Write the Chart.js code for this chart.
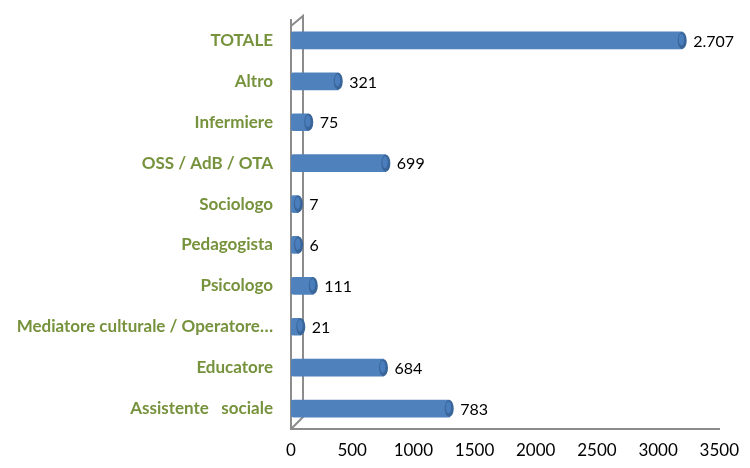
<!DOCTYPE html>
<html>
<head>
<meta charset="utf-8">
<script src="https://cdn.jsdelivr.net/npm/chart.js@4/dist/chart.umd.min.js"></script>
<style>
  html, body { margin: 0; padding: 0; background: #fff; }
  #wrap { width: 750px; height: 468px; position: relative; }
</style>
</head>
<body>
<div id="wrap"><canvas id="profChart"></canvas></div>
<script>
// categorie (dall'alto verso il basso)
const categories = [
    'TOTALE', 'Altro', 'Infermiere', 'OSS / AdB / OTA', 'Sociologo',
    'Pedagogista', 'Psicologo', 'Mediatore culturale / Operatore…',
    'Educatore', 'Assistente   sociale'
];
// lunghezze delle barre
const barValues = [3197, 386, 145, 775, 60, 62, 182, 80, 756, 1293];
// etichette numeriche stampate accanto alle barre
const valueLabels = ['2.707', '321', '75', '699', '7', '6', '111', '21', '684', '783'];
const xTicks = [0, 500, 1000, 1500, 2000, 2500, 3000, 3500];

// --- cilindri: tappo ellittico + etichette ---
const cylinderPlugin = {
    id: 'cylinder',
    beforeDatasetsDraw(chart) {
        // parete sinistra 3D
        const ctx = chart.ctx;
        const a = chart.chartArea;
        ctx.save();
        ctx.strokeStyle = '#8C8C8C';
        ctx.lineWidth = 2;
        ctx.beginPath();
        ctx.moveTo(a.left, a.top + 6);
        ctx.lineTo(a.left + 12, a.top - 4);
        ctx.lineTo(a.left + 12, a.bottom - 12);
        ctx.lineTo(a.left, a.bottom);
        ctx.stroke();
        ctx.restore();
    },
    afterDatasetsDraw(chart) {
        const ctx = chart.ctx;
        const meta = chart.getDatasetMeta(0);
        meta.data.forEach((bar, i) => {
            const ry = bar.height / 2;
            const rx = 4.5;
            ctx.save();
            // tappo finale
            ctx.beginPath();
            ctx.ellipse(bar.x, bar.y, rx, ry, 0, 0, Math.PI * 2);
            ctx.fillStyle = '#3A6599';
            ctx.fill();
            ctx.beginPath();
            ctx.ellipse(bar.x - 0.8, bar.y - 1, rx - 1.8, ry - 2.5, 0, 0, Math.PI * 2);
            ctx.fillStyle = '#4A7DBB';
            ctx.fill();
            // etichetta
            ctx.fillStyle = '#000';
            ctx.font = '16px Lato, "Open Sans", sans-serif';
            ctx.textAlign = 'left';
            ctx.textBaseline = 'middle';
            ctx.fillText(valueLabels[i], bar.x + 11, bar.y + 1);
            ctx.restore();
        });
    }
};

const canvas = document.getElementById('profChart');
const ctx = canvas.getContext('2d');

new Chart(ctx, {
    type: 'bar',
    data: {
        labels: categories,
        datasets: [{
            data: barValues,
            backgroundColor: function(context) {
                const el = context.element;
                const c = context.chart.ctx;
                if (!el || !el.y) return '#4F81BD';
                const g = c.createLinearGradient(0, el.y - 8.5, 0, el.y + 8.5);
                g.addColorStop(0, '#5B8BC8');
                g.addColorStop(0.35, '#7DAAE2');
                g.addColorStop(0.7, '#4F81BD');
                g.addColorStop(1, '#34598A');
                return g;
            },
            borderWidth: 0,
            barThickness: 17,
            borderSkipped: false,
            borderRadius: { topLeft: 3, bottomLeft: 3, topRight: 0, bottomRight: 0 }
        }]
    },
    options: {
        indexAxis: 'y',
        responsive: true,
        maintainAspectRatio: false,
        animation: false,
        layout: { padding: { top: 20, right: 23, left: 0, bottom: 0 } },
        plugins: {
            legend: { display: false },
            tooltip: { enabled: false }
        },
        scales: {
            x: {
                min: 0,
                max: 3500,
                afterBuildTicks: function(scale) {
                    scale.ticks = xTicks.map(v => ({ value: v }));
                },
                afterFit: function(scale) { scale.height = 39; },
                grid: { display: false, drawTicks: false },
                border: { display: true, color: '#8C8C8C', width: 2 },
                ticks: {
                    color: '#000',
                    padding: 11,
                    maxRotation: 0,
                    callback: function(value) { return String(value); },
                    font: { family: 'Lato, "Open Sans", sans-serif', size: 17 }
                }
            },
            y: {
                afterFit: function(scale) {
                    scale.width = 291;
                    scale.paddingTop = 0;
                    scale.paddingBottom = 0;
                },
                grid: { display: false, drawTicks: false },
                border: { display: true, color: '#8C8C8C', width: 2 },
                ticks: {
                    color: '#76923C',
                    padding: 18,
                    autoSkip: false,
                    font: { family: 'Lato, "Open Sans", sans-serif', size: 17, weight: 'bold' }
                }
            }
        }
    },
    plugins: [cylinderPlugin]
});
</script>
</body>
</html>
